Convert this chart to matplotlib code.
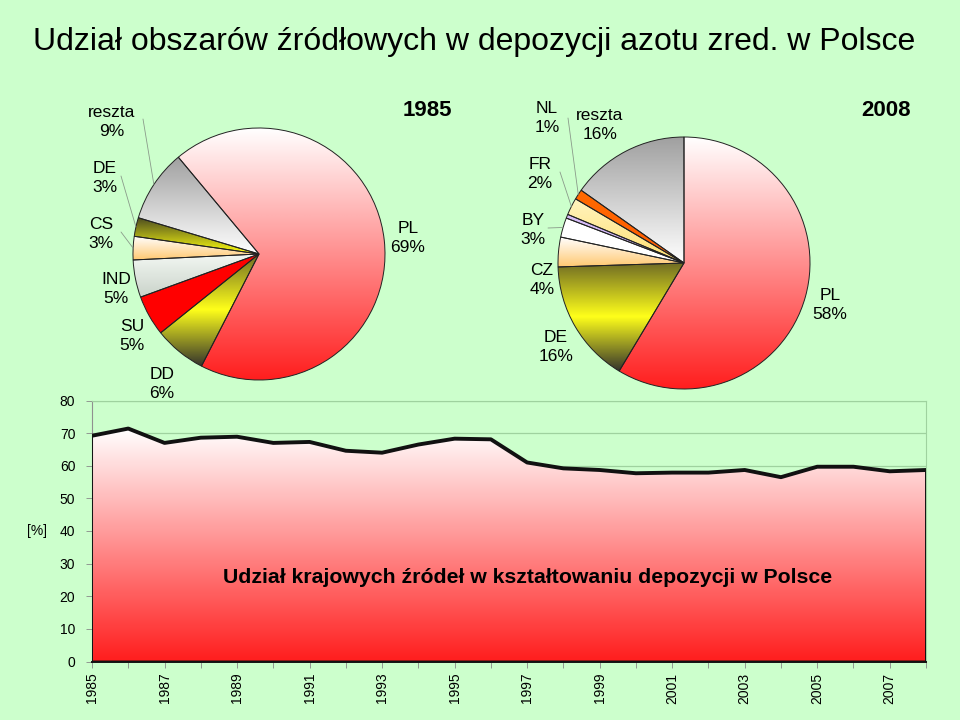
import numpy as np
import matplotlib
matplotlib.use("Agg")
import matplotlib.pyplot as plt
from matplotlib.colors import LinearSegmentedColormap
from matplotlib.patches import Polygon

plt.rcParams['font.family'] = ['Liberation Sans', 'DejaVu Sans']

# national share of deposition, 1985-2008
years = list(range(1985, 2009))
share = [69.2, 71.4, 67.0, 68.6, 68.9, 67.0, 67.3, 64.6, 64.0, 66.5, 68.3, 68.1,
         61.0, 59.2, 58.7, 57.7, 57.9, 57.9, 58.7, 56.5, 59.7, 59.7, 58.3, 58.7]

# pie 1985
names_85 = ['PL', 'DD', 'SU', 'IND', 'CS', 'DE', 'reszta']
values_85 = [68.6, 6.7, 5.2, 4.8, 3.0, 2.4, 9.3]
labels_85 = ['69%', '6%', '5%', '5%', '3%', '3%', '9%']

# pie 2008 (unlabelled thin slice between BY and FR)
names_08 = ['PL', 'DE', 'CZ', 'BY', '', 'FR', 'NL', 'reszta']
values_08 = [58.6, 15.9, 3.8, 2.5, 0.5, 2.2, 1.3, 15.2]
labels_08 = ['58%', '16%', '4%', '3%', '', '2%', '1%', '16%']

BG = '#CCFFCC'
GRID = '#9FD29F'

# gradient styles (top -> bottom)
RED = ['#FFFFFF', '#FF1E1E']
YEL = ['#6E6A24', '#FFFF1A', '#34342C']
GREY = ['#A0A0A0', '#FFFFFF']
PEACH = ['#FFFFFF', '#FFC870']
styles_85 = {'PL': RED, 'DD': YEL, 'SU': ['#FF0000', '#FF0000'],
             'IND': ['#F4F8F4', '#C9D3C9'], 'CS': PEACH,
             'DE': ['#4A4A20', '#FFFF10'], 'reszta': GREY}
styles_08 = {'PL': RED, 'DE': YEL, 'CZ': PEACH, 'BY': ['#FFFFFF', '#FFFFFF'],
             '': ['#D8C0F8', '#C8A8F0'], 'FR': ['#FFF4C0', '#FFE070'],
             'NL': ['#FF6A00', '#FF5A00'], 'reszta': GREY}


def gradient_clip(ax, patch, colors, extent, z):
    cmap = LinearSegmentedColormap.from_list('g', colors)
    img = ax.imshow(np.linspace(0, 1, 256).reshape(-1, 1), cmap=cmap,
                    extent=extent, aspect='auto', origin='upper',
                    interpolation='bilinear', zorder=z)
    img.set_clip_path(patch)
    return img


def draw_pie(ax, names, values, styles, start):
    wedges, _ = ax.pie(values, startangle=start, counterclock=False,
                       radius=1, wedgeprops=dict(edgecolor='#222222', linewidth=0.7))
    for name, w in zip(names, wedges):
        if name == 'PL':
            ext = (-1, 1, -1, 1)
        else:
            bb = w.get_path().get_extents()
            ext = (bb.x0, bb.x1, bb.y0, bb.y1)
        gradient_clip(ax, w, styles[name], ext, 1)
        w.set_facecolor('none')
        w.set_zorder(2)
    ax.set_xlim(-1, 1)
    ax.set_ylim(-1, 1)
    ax.axis('off')
    return wedges


def mid_point(w):
    a = np.deg2rad((w.theta1 + w.theta2) / 2)
    return np.cos(a), np.sin(a)


fig = plt.figure(figsize=(9.6, 7.2), dpi=100, facecolor=BG)

fig.text(33 / 960, 1 - 42 / 720,
         'Udział obszarów źródłowych w depozycji azotu zred. w Polsce',
         fontsize=23, ha='left', va='center')

# --- area chart ---
ax = fig.add_axes([92 / 960, 1 - 661.5 / 720, 834 / 960, 261 / 720])
ax.set_facecolor(BG)
ax.yaxis.grid(True, color=GRID, linewidth=0.9, zorder=0)
ax.set_axisbelow(True)

verts = [(years[0], 0)] + list(zip(years, share)) + [(years[-1], 0)]
poly = Polygon(verts, closed=True, facecolor='none', edgecolor='#111111',
               linewidth=1.4, zorder=3)
ax.add_patch(poly)
gradient_clip(ax, poly, RED, (years[0], years[-1], 0, max(share)), 2)
ax.plot(years, share, color='#111111', linewidth=2.8, zorder=4)
ax.set_xlim(1985, 2008)
ax.set_ylim(0, 80)
ax.set_yticks(range(0, 81, 10))

for s in ['top', 'right']:
    ax.spines[s].set_color(GRID)
ax.spines['left'].set_color('#909090')
ax.spines['bottom'].set_color('#111111')
ax.spines['bottom'].set_linewidth(1.4)

ax.set_xticks(years)
ax.set_xticklabels([str(y) if y % 2 else '' for y in years], rotation=90, fontsize=10)
ax.tick_params(axis='x', length=4, width=0.6, color='#888888', pad=4)
ax.tick_params(axis='y', length=4, width=0.6, color='#888888', pad=8, labelsize=10)
ax.set_ylabel('[%]', rotation=0, fontsize=10, va='center', ha='right', labelpad=9)

ax.text(1997.0, 25.9, 'Udział krajowych źródeł w kształtowaniu depozycji w Polsce',
        fontsize=15.3, fontweight='bold', ha='center', va='center', zorder=5)

# --- pies ---
lab_kw = dict(fontsize=12.5, ha='center', va='center', linespacing=1.3)
line_kw = dict(arrowstyle='-', color='#8A9A8A', linewidth=0.6, shrinkA=0, shrinkB=0)

pa = fig.add_axes([(259 - 126) / 960, (720 - 380) / 720, 252 / 960, 252 / 720])
w85 = draw_pie(pa, names_85, values_85, styles_85, 129.8)


def px85(x, y):
    return (x - 259) / 126, (254 - y) / 126


label_pos_85 = {'PL': (408, 238), 'DD': (162, 384), 'SU': (132, 336),
                'IND': (116, 289), 'CS': (101, 234), 'DE': (105, 178),
                'reszta': (112, 122)}
for name, lab in zip(names_85, labels_85):
    pa.text(*px85(*label_pos_85[name]), f'{name}\n{lab}', clip_on=False, **lab_kw)
leader_85 = {'reszta': (143, 119), 'DE': (121, 176), 'CS': (121, 232)}
for name, w in zip(names_85, w85):
    if name in leader_85:
        pa.annotate('', xy=mid_point(w), xytext=px85(*leader_85[name]),
                    arrowprops=line_kw, annotation_clip=False)
pa.text(*px85(427, 110), '1985', fontsize=16, fontweight='bold',
        ha='center', va='center', clip_on=False)

pb = fig.add_axes([(684 - 126) / 960, (720 - 389) / 720, 252 / 960, 252 / 720])
w08 = draw_pie(pb, names_08, values_08, styles_08, 90)


def px08(x, y):
    return (x - 684) / 126, (263 - y) / 126


label_pos_08 = {'PL': (830, 305), 'DE': (556, 347), 'CZ': (542, 280),
                'BY': (533, 230), 'FR': (540, 174), 'NL': (547, 118),
                'reszta': (600, 125)}
for name, lab in zip(names_08, labels_08):
    if name:
        pb.text(*px08(*label_pos_08[name]), f'{name}\n{lab}', clip_on=False, **lab_kw)
leader_08 = {'NL': (568, 118), 'FR': (560, 172), 'BY': (548, 228)}
for name, w in zip(names_08, w08):
    if name in leader_08:
        pb.annotate('', xy=mid_point(w), xytext=px08(*leader_08[name]),
                    arrowprops=line_kw, annotation_clip=False)
pb.text(*px08(886, 110), '2008', fontsize=16, fontweight='bold',
        ha='center', va='center', clip_on=False)

fig.savefig('out.png', dpi=100, facecolor=BG)
